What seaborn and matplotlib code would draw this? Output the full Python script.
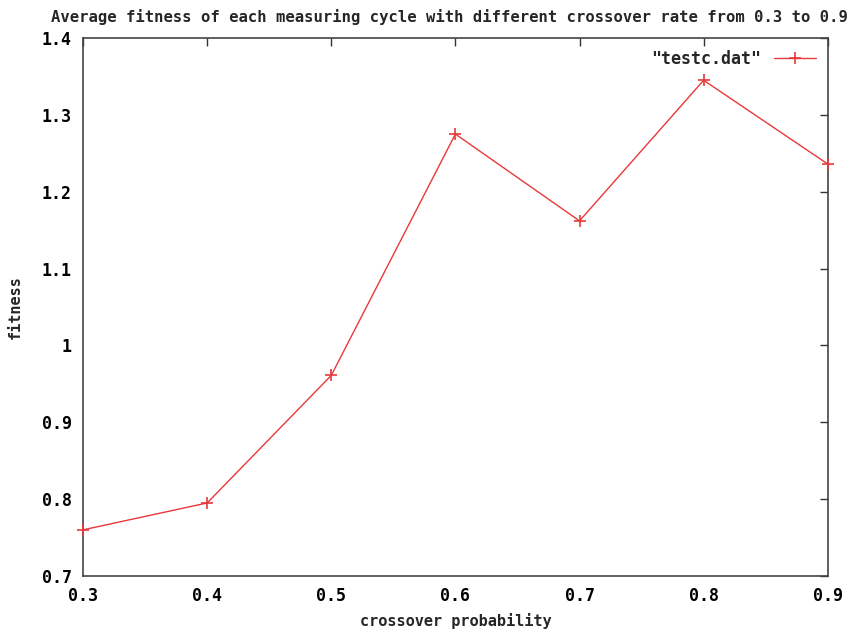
import matplotlib
matplotlib.use("Agg")
import matplotlib.pyplot as plt
import seaborn as sns
import pandas as pd

crossover = [0.3, 0.4, 0.5, 0.6, 0.7, 0.8, 0.9]
fitness = [0.760, 0.795, 0.961, 1.275, 1.162, 1.345, 1.236]
xticks = [0.3, 0.4, 0.5, 0.6, 0.7, 0.8, 0.9]
yticks = [0.7, 0.8, 0.9, 1.0, 1.1, 1.2, 1.3, 1.4]
ytick_labels = ["0.7", "0.8", "0.9", "1", "1.1", "1.2", "1.3", "1.4"]

sns.set_style("white")
plt.rcParams['font.family'] = ['DejaVu Sans Mono']
plt.rcParams['font.weight'] = 'bold'

df = pd.DataFrame({"x": crossover, "y": fitness, "s": ['"testc.dat"'] * len(crossover)})

red = "#e8393a"
fig = plt.figure(figsize=(8.56, 6.31), dpi=100)
ax = fig.add_axes([0.097, 0.0872, 0.870, 0.8526])
sns.lineplot(data=df, x="x", y="y", hue="s", palette=[red], marker="+",
             markersize=9, markeredgewidth=1.2, markeredgecolor=red,
             linewidth=1.0, ax=ax, clip_on=False, zorder=3)

ax.set_xlim(0.3, 0.9)
ax.set_ylim(0.7, 1.4)
ax.set_xticks(xticks)
ax.set_xticklabels([f"{v:.1f}" for v in xticks])
ax.set_yticks(yticks)
ax.set_yticklabels(ytick_labels)
ax.tick_params(direction="in", length=6, width=1, colors="#333333", labelcolor="black",
               labelsize=12, top=True, right=True, pad=8)
for s in ax.spines.values():
    s.set_color("#444444")
    s.set_linewidth(1.2)

ax.set_xlabel("crossover probability", fontsize=11, fontweight="bold", labelpad=6)
ax.set_ylabel("fitness", fontsize=11, fontweight="bold", labelpad=14)
fig.text(0.525, 0.985, "Average fitness of each measuring cycle with different crossover rate from 0.3 to 0.9",
         ha="center", va="top", fontsize=11.2, fontweight="bold")

leg = ax.legend(loc="upper right", frameon=False, markerfirst=False, fontsize=12,
                handlelength=2.5, borderaxespad=0.3)
leg.set_title(None)

fig.savefig("out.png", dpi=100)
